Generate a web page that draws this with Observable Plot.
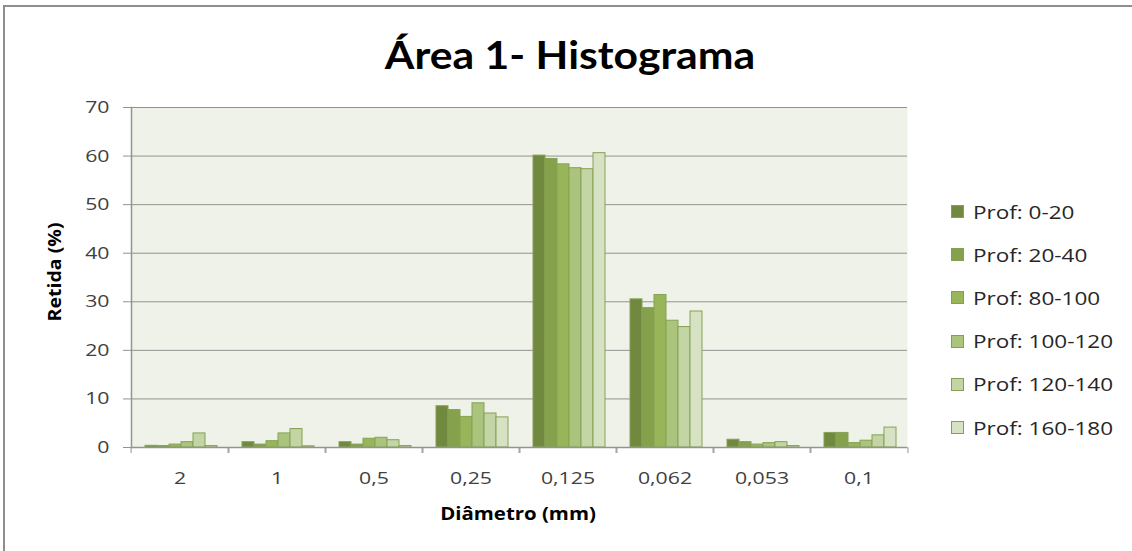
<!DOCTYPE html>
<html>
<head>
<meta charset="utf-8">
<script src="https://cdn.jsdelivr.net/npm/d3@7"></script>
<script src="https://cdn.jsdelivr.net/npm/@observablehq/plot@0.6"></script>
<style>
  body { margin: 0; background: #fff; }
  #wrap { position: relative; width: 1132px; height: 551px; overflow: hidden; font-family: "Open Sans", sans-serif; color: #404040; }
  #border { position: absolute; left: 3px; top: 5px; width: 1200px; height: 700px; border: 2px solid #8e8e8e; box-sizing: border-box; }
  #chart { position: absolute; left: 0; top: 0; }
  #title { position: absolute; left: 570px; top: 54px; transform: translate(-50%, -50%) scaleX(1.095); font-family: Lato, sans-serif; font-weight: 700; font-size: 39px; color: #000; line-height: 48px; white-space: nowrap; }
  #ylabel { position: absolute; left: 54px; top: 272px; transform: translate(-50%, -50%) rotate(-90deg) scaleX(1.15); font-weight: 700; font-size: 17px; color: #000; white-space: nowrap; }
  #xlabel { position: absolute; left: 518px; top: 513px; transform: translate(-50%, -50%) scaleX(1.2); font-weight: 700; font-size: 17px; color: #000; white-space: nowrap; }
  #legend { position: absolute; left: 951px; top: 190px; }
  .item { display: flex; align-items: center; height: 43.2px; font-size: 18px; color: #262626; white-space: nowrap; }
  .sw { width: 11px; height: 11px; margin-right: 9px; border: 1px solid #82a050; flex: none; }
  .lt { display: inline-block; transform: scaleX(1.25); transform-origin: left center; }
</style>
</head>
<body>
<div id="wrap">
  <div id="border"></div>
  <div id="chart"></div>
  <div id="title">Área 1- Histograma</div>
  <div id="ylabel">Retida (%)</div>
  <div id="xlabel">Diâmetro (mm)</div>
  <div id="legend"></div>
</div>
<script>
// ---- data ----
const categories = ["2", "1", "0,5", "0,25", "0,125", "0,062", "0,053", "0,1"];
const series = ["Prof: 0-20", "Prof: 20-40", "Prof: 80-100", "Prof: 100-120", "Prof: 120-140", "Prof: 160-180"];
const prof0_20    = [0.35, 1.1, 1.1, 8.5, 60.1, 30.5, 1.6, 3.0];
const prof20_40   = [0.3, 0.6, 0.6, 7.7, 59.4, 28.7, 1.1, 3.0];
const prof80_100  = [0.6, 1.3, 1.8, 6.3, 58.3, 31.4, 0.6, 0.9];
const prof100_120 = [1.1, 2.9, 2.0, 9.1, 57.5, 26.1, 0.9, 1.4];
const prof120_140 = [2.9, 3.8, 1.5, 7.0, 57.3, 24.8, 1.1, 2.5];
const prof160_180 = [0.3, 0.25, 0.3, 6.2, 60.6, 28.0, 0.3, 4.1];
const colors = ["#71893f", "#85a14c", "#98b559", "#abc47d", "#c3d4a5", "#d7e2c5"];
const yTicks = [0, 10, 20, 30, 40, 50, 60, 70];

const seriesValues = [prof0_20, prof20_40, prof80_100, prof100_120, prof120_140, prof160_180];
const rows = [];
seriesValues.forEach((vals, si) => vals.forEach((v, ci) => rows.push({cat: categories[ci], ser: series[si], v})));

// ---- layout ----
const W = 1132, H = 551, ML = 127, MR = 222, MT = 107, MB = 104;
const fxStep = (W - ML - MR) / categories.length;
const gridColor = "#939393";

const chart = Plot.plot({
  width: W, height: H,
  marginLeft: ML, marginRight: MR, marginTop: MT, marginBottom: MB,
  style: {fontFamily: "'Open Sans', sans-serif", fontSize: "17px", color: "#404040", background: "transparent"},
  fx: {domain: categories, padding: 0, label: null},
  x: {domain: series, paddingInner: 0, paddingOuter: 0.77, align: 0.55, axis: null},
  y: {domain: [0, 70], label: null},
  color: {domain: series, range: colors},
  marks: [
    Plot.frame({fill: "#eff2e9", stroke: null, facet: "super"}),
    Plot.gridY(yTicks.slice(1), {stroke: gridColor, strokeOpacity: 1}),
    Plot.barY(rows, {fx: "cat", x: "ser", y: "v", fill: "ser", stroke: "#86a253", strokeWidth: 1, inset: 0}),
    Plot.ruleY([0], {stroke: gridColor, strokeWidth: 1.5}),
    Plot.frame({anchor: "left", stroke: gridColor, strokeWidth: 1.5, facetAnchor: "left"}),
    Plot.axisY(yTicks, {tickSize: 8, tickPadding: 14, stroke: gridColor, label: null}),
    Plot.axisFx({anchor: "bottom", tickSize: 6, tickFormat: () => "", dx: -fxStep / 2, stroke: gridColor, label: null}),
    Plot.axisFx([categories[categories.length - 1]], {anchor: "bottom", tickSize: 6, tickFormat: () => "", dx: fxStep / 2, stroke: gridColor, label: null}),
    Plot.axisFx({anchor: "bottom", tickSize: 0, tickPadding: 24, label: null})
  ]
});
document.getElementById("chart").appendChild(chart);

// widen tick labels horizontally (reference text is horizontally stretched)
const SX = 1.25;
chart.querySelectorAll('g[aria-label$="tick label"] text').forEach(t => {
  const tr = t.getAttribute("transform");
  if (tr) {
    t.setAttribute("transform", tr + ` scale(${SX},1)`);
  } else {
    const x = parseFloat(t.getAttribute("x") || 0);
    t.setAttribute("x", 0);
    t.setAttribute("transform", `translate(${x},0) scale(${SX},1)`);
  }
});

// legend
const legend = document.getElementById("legend");
series.forEach((s, i) => {
  const it = document.createElement("div");
  it.className = "item";
  const sw = document.createElement("span");
  sw.className = "sw";
  sw.style.background = colors[i];
  const t = document.createElement("span");
  t.className = "lt";
  t.textContent = s;
  it.appendChild(sw); it.appendChild(t);
  legend.appendChild(it);
});
</script>
</body>
</html>
